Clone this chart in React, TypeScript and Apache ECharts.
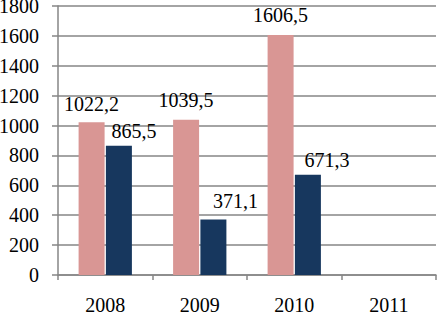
import React, { useEffect, useRef } from "react";
import * as echarts from "echarts";

const categories = ["2008", "2009", "2010", "2011"];
const seriesA = [1022.2, 1039.5, 1606.5, null];
const seriesB = [865.5, 371.1, 671.3, null];
const yTicks = { min: 0, max: 1800, interval: 200 };

// label offsets (styling)
const offsetsA = [[0, 0], [0, -2], [0, -2], [0, 0]];
const offsetsB = [[15, 3], [22, -1], [19, 3], [0, 0]];

const FONT = "'Liberation Serif', 'Times New Roman', Times, serif";
const FS = 20;
const fmt = (v: number) => v.toFixed(1).replace(".", ",");

export default function App() {
  const ref = useRef<HTMLDivElement>(null);
  useEffect(() => {
    document.body.style.margin = "0";
    const chart = echarts.init(ref.current!, null, { renderer: "svg" });
    const mk = (vals: (number | null)[], offs: number[][], color: string, name: string) => ({
      name,
      type: "bar",
      barWidth: 26,
      barGap: "5%",
      itemStyle: { color },
      data: vals.map((v, i) => ({
        value: v,
        label: { offset: offs[i] },
      })),
      label: {
        show: true,
        position: "top",
        distance: 8,
        fontFamily: FONT,
        fontSize: FS,
        color: "#000",
        formatter: (p: any) => (p.value == null ? "" : fmt(p.value)),
      },
    });
    chart.setOption({
      animation: false,
      backgroundColor: "#fff",
      textStyle: { fontFamily: FONT },
      grid: { left: 58, right: 1, top: 6, bottom: 39, containLabel: false, outerBoundsMode: "none" },
      xAxis: {
        type: "category",
        data: categories,
        boundaryGap: true,
        axisLine: { show: true, lineStyle: { color: "#868686", width: 1.5 } },
        axisTick: { show: true, length: 5, lineStyle: { color: "#868686", width: 1.5 } },
        axisLabel: { fontFamily: FONT, fontSize: FS, color: "#000", margin: 20 },
      },
      yAxis: {
        type: "value",
        min: yTicks.min,
        max: yTicks.max,
        interval: yTicks.interval,
        axisLine: { show: true, lineStyle: { color: "#868686", width: 1.5 } },
        axisTick: { show: true, length: 6, lineStyle: { color: "#868686", width: 1.5 } },
        axisLabel: {
          fontFamily: FONT,
          fontSize: FS,
          color: "#000",
          margin: 19,
          formatter: (v: number) => String(v),
        },
        splitLine: { show: true, lineStyle: { color: "#868686", width: 1.5 } },
      },
      series: [
        mk(seriesA, offsetsA, "#D99694", "A"),
        mk(seriesB, offsetsB, "#17375E", "B"),
      ],
    });
    return () => chart.dispose();
  }, []);
  return <div ref={ref} style={{ width: 437, height: 314 }} />;
}
